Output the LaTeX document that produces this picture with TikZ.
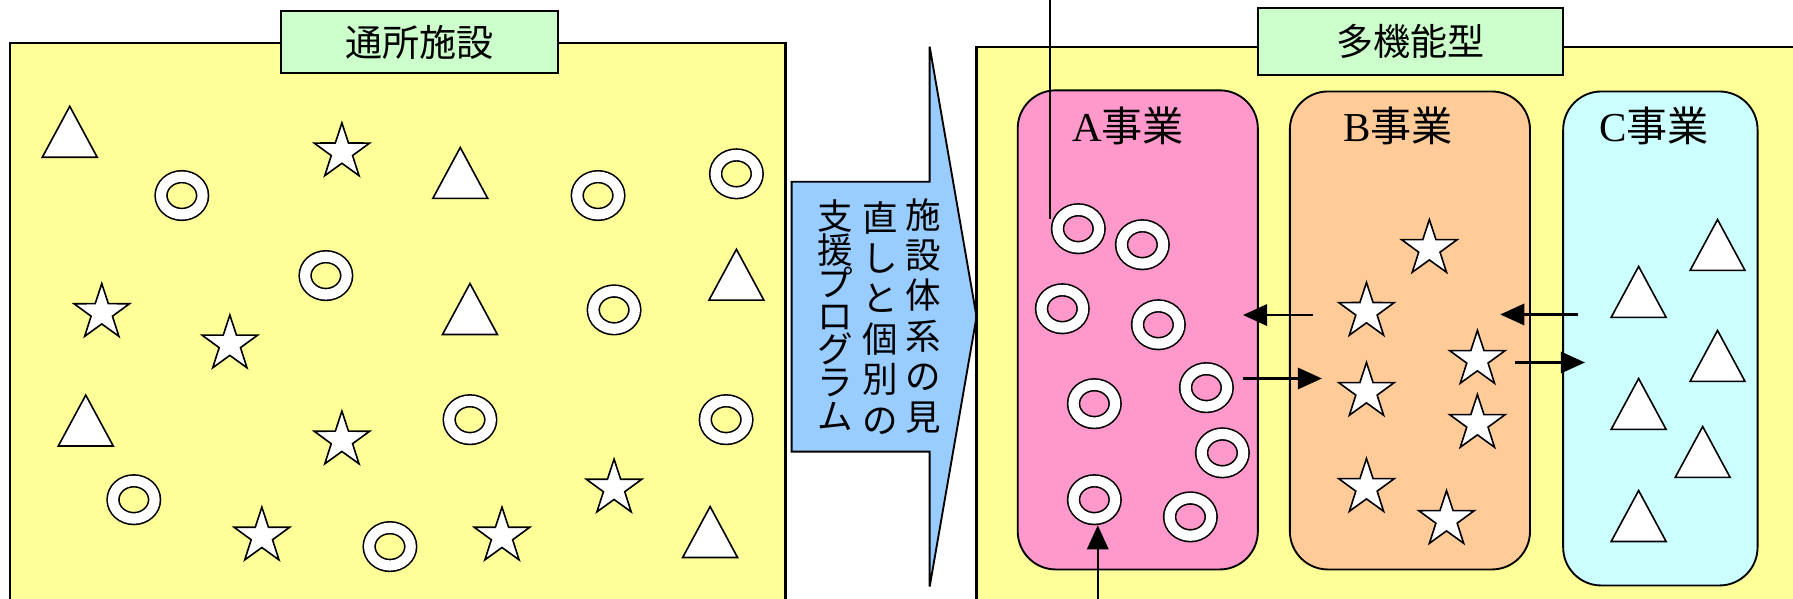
\documentclass[tikz,border=0pt]{standalone}
\usepackage{fontspec}
\setmainfont{Liberation Serif}
\newfontfamily\cjk{Noto Sans CJK JP}
\usetikzlibrary{shapes.geometric,arrows.meta}

\definecolor{padyellow}{HTML}{FFFF99}
\definecolor{padgreen}{HTML}{CCFFCC}
\definecolor{padblue}{HTML}{99CCFF}
\definecolor{padpink}{HTML}{FF99CC}
\definecolor{padorange}{HTML}{FFCC99}
\definecolor{padcyan}{HTML}{CCFFFF}

\tikzset{
  frame/.style={draw=black, line width=1.7pt, fill=padyellow},
  titlebox/.style={draw=black, line width=1.4pt, fill=padgreen, inner sep=0pt, font=\cjk\fontsize{27.7}{32}\selectfont},
  unitbox/.style={draw=black, line width=1.4pt, rounded corners=10mm, inner sep=0pt},
  unitlabel/.style={anchor=base, inner sep=0pt, font=\fontsize{30.7}{36}\selectfont},
  vtext/.style={inner sep=0pt, align=center, font=\cjk\fontsize{26.5}{30.2}\selectfont},
  ring/.style={ellipse, draw=black, line width=1.2pt, double=white, double distance=7.6pt, minimum width=10.9mm, minimum height=9.9mm, inner sep=0pt, outer sep=5pt},
  starmark/.style={star, star points=5, star point ratio=2.6, draw=black, line width=1.2pt, fill=white, minimum size=15.3mm, inner sep=0pt},
  flow/.style={line width=1.6pt, -{Triangle[length=18pt,width=16pt]}},
  tri/.pic={\filldraw[draw=black, line width=1.2pt, fill=white] (0,0) -- (24,44.5) -- (-24,44.5) -- cycle;}
}

\begin{document}
\setlength{\lineskiplimit}{-20pt}
\begin{tikzpicture}[x=0.3mm, y=-0.3mm]
\useasboundingbox (0,0) rectangle (1568,523);

% left side
\filldraw[frame] (8.6,37.5) rectangle (687,545);
\node[titlebox, minimum width=72.6mm, minimum height=16.4mm] (ttlL) at (367,36.8) {通所施設};

\pic at (61,93) {tri};
\pic at (402.5,129) {tri};
\pic at (411,248) {tri};
\pic at (644,218) {tri};
\pic at (75,345.5) {tri};
\pic at (621,443) {tri};

\node[ring] (l01) at (159,171) {};
\node[ring] (l02) at (523,171) {};
\node[ring] (l03) at (644,152) {};
\node[ring] (l04) at (285,241) {};
\node[ring] (l05) at (537,271) {};
\node[ring] (l06) at (411,367) {};
\node[ring] (l07) at (635,367) {};
\node[ring] (l08) at (117,437) {};
\node[ring] (l09) at (341,478) {};

\node[starmark] (l10) at (299,133) {};
\node[starmark] (l11) at (89,273.5) {};
\node[starmark] (l12) at (201,301) {};
\node[starmark] (l13) at (299,385) {};
\node[starmark] (l14) at (537,427) {};
\node[starmark] (l15) at (229,469) {};
\node[starmark] (l16) at (439,469) {};

% the arrow in the middle
\filldraw[draw=black, line width=1.4pt, fill=padblue] (692.3,158.9) -- (813,158.9) -- (813,40.8) -- (854,277) -- (813,513) -- (813,395) -- (692.3,395) -- cycle;
\node[vtext] (col1) at (807.5,276.1) {施\\設\\体\\系\\の\\見};
\node[vtext] (col2) at (769.6,277.9) {直\\し\\と\\個\\別\\の};
\node[vtext, font=\cjk\fontsize{26.5}{24.8}\selectfont] (col3) at (730.2,275.6) {支\\援\\プ\\ロ\\グ\\ラ\\ム};

% right side
\filldraw[frame] (854,40.8) rectangle (1600,545);
\node[titlebox, minimum width=80.1mm, minimum height=17.6mm] (ttlR) at (1233.5,36) {多機能型};

\node[unitbox, fill=padpink, minimum width=63mm, minimum height=125.7mm] (A) at (995,288.5) {};
\node[unitbox, fill=padorange, minimum width=63mm, minimum height=125.4mm] (B) at (1233,289) {};
\node[unitbox, fill=padcyan, minimum width=51mm, minimum height=129.6mm] (C) at (1452,296) {};

\node[unitlabel] (Alab) at (986.5,124) {A{\cjk 事業}};
\node[unitlabel] (Blab) at (1222.5,124) {B{\cjk 事業}};
\node[unitlabel] (Clab) at (1446.5,124) {C{\cjk 事業}};

\node[ring] (a01) at (943,200) {};
\node[ring] (a02) at (999,214) {};
\node[ring] (a03) at (929,270) {};
\node[ring] (a04) at (1013,284) {};
\node[ring] (a05) at (1055,339) {};
\node[ring] (a06) at (957,353) {};
\node[ring] (a07) at (1069,396) {};
\node[ring] (a08) at (957,437) {};
\node[ring] (a09) at (1041,452) {};

\node[starmark] (b01) at (1250,217.5) {};
\node[starmark] (b02) at (1195,272.5) {};
\node[starmark] (b03) at (1292,314.5) {};
\node[starmark] (b04) at (1195,342.5) {};
\node[starmark] (b05) at (1292,370.5) {};
\node[starmark] (b06) at (1195,426.5) {};
\node[starmark] (b07) at (1265,454.5) {};

\pic at (1502,192) {tri};
\pic at (1433,233) {tri};
\pic at (1502,289) {tri};
\pic at (1433,331) {tri};
\pic at (1489,373) {tri};
\pic at (1433,429) {tri};

% moves between the units
\coordinate (ba1) at (1148.5,275.5);
\coordinate (ba2) at (1087,275.5);
\coordinate (ab1) at (1087,331);
\coordinate (ab2) at (1156,331);
\coordinate (cb1) at (1380,275);
\coordinate (cb2) at (1312,275);
\coordinate (bc1) at (1325,317);
\coordinate (bc2) at (1386,317);
\coordinate (feed) at (960,545);
\coordinate (lead) at (918,-5);

\draw[flow] (ba1) -- (ba2);
\draw[flow] (ab1) -- (ab2);
\draw[flow] (cb1) -- (cb2);
\draw[flow] (bc1) -- (bc2);
\draw[flow] (feed) -- (feed |- a08.south);
\draw[line width=1.6pt] (lead) -- (lead |- a01.160);

\end{tikzpicture}
\end{document}
